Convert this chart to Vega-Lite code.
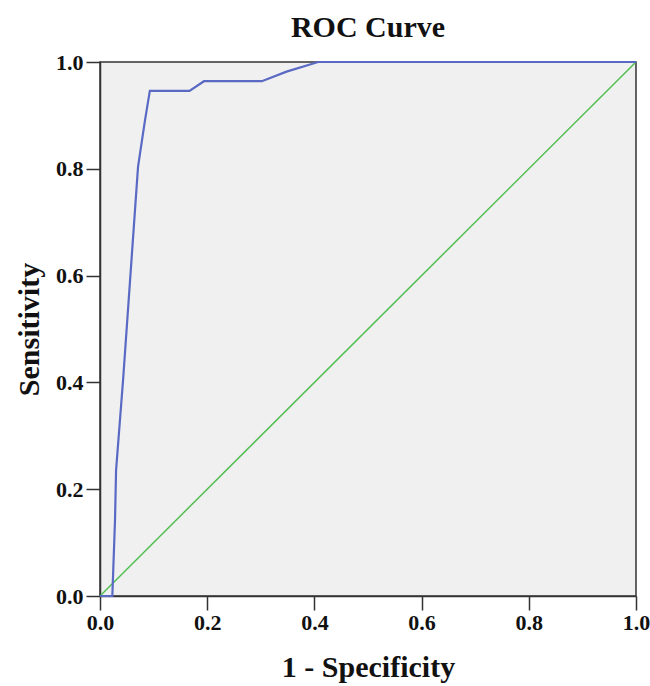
{
  "$schema": "https://vega.github.io/schema/vega-lite/v6.json",
  "width": 536,
  "height": 534,
  "autosize": {"type": "none"},
  "padding": {"left": 100, "top": 62, "right": 14, "bottom": 90},
  "background": "white",
  "title": {"text": "ROC Curve", "font": "Liberation Serif", "fontSize": 30, "fontWeight": "bold", "color": "#111", "anchor": "middle", "offset": 8},
  "config": {
    "view": {"fill": "#f0f0f0", "stroke": "#333", "strokeWidth": 1.5},
    "axis": {"labelFont": "Liberation Serif", "labelFontSize": 22, "labelFontWeight": "bold", "labelColor": "#111", "labelFlush": false,
      "titleFont": "Liberation Serif", "titleFontSize": 30, "titleFontWeight": "bold", "titleColor": "#111",
      "domainColor": "#333", "domainWidth": 1.5, "tickColor": "#333", "tickWidth": 1.5, "tickSize": 14, "grid": false}
  },
  "datasets": {
    "roc": [
      {"fpr": 0.0, "tpr": 0.0},
      {"fpr": 0.023, "tpr": 0.0},
      {"fpr": 0.028, "tpr": 0.142},
      {"fpr": 0.030, "tpr": 0.236},
      {"fpr": 0.043, "tpr": 0.404},
      {"fpr": 0.070, "tpr": 0.79},
      {"fpr": 0.071, "tpr": 0.804},
      {"fpr": 0.084, "tpr": 0.891},
      {"fpr": 0.093, "tpr": 0.946},
      {"fpr": 0.167, "tpr": 0.946},
      {"fpr": 0.194, "tpr": 0.964},
      {"fpr": 0.302, "tpr": 0.964},
      {"fpr": 0.348, "tpr": 0.982},
      {"fpr": 0.407, "tpr": 1.0},
      {"fpr": 1.0, "tpr": 1.0}
    ],
    "ref": [
      {"fpr": 0.0, "tpr": 0.0},
      {"fpr": 1.0, "tpr": 1.0}
    ]
  },
  "layer": [
    {
      "data": {"name": "ref"},
      "mark": {"type": "line", "color": "#52bf52", "strokeWidth": 1.5},
      "encoding": {
        "x": {"field": "fpr", "type": "quantitative", "scale": {"domain": [0, 1], "nice": false},
          "axis": {"title": "1 - Specificity", "values": [0, 0.2, 0.4, 0.6, 0.8, 1.0], "format": ".1f", "labelPadding": 2, "titlePadding": 19}},
        "y": {"field": "tpr", "type": "quantitative", "scale": {"domain": [0, 1], "nice": false},
          "axis": {"title": "Sensitivity", "values": [0, 0.2, 0.4, 0.6, 0.8, 1.0], "format": ".1f", "labelPadding": 3, "titlePadding": 11}}
      }
    },
    {
      "data": {"name": "roc"},
      "mark": {"type": "line", "color": "#5a6ac4", "strokeWidth": 2.2},
      "encoding": {
        "x": {"field": "fpr", "type": "quantitative"},
        "y": {"field": "tpr", "type": "quantitative"}
      }
    }
  ]
}
